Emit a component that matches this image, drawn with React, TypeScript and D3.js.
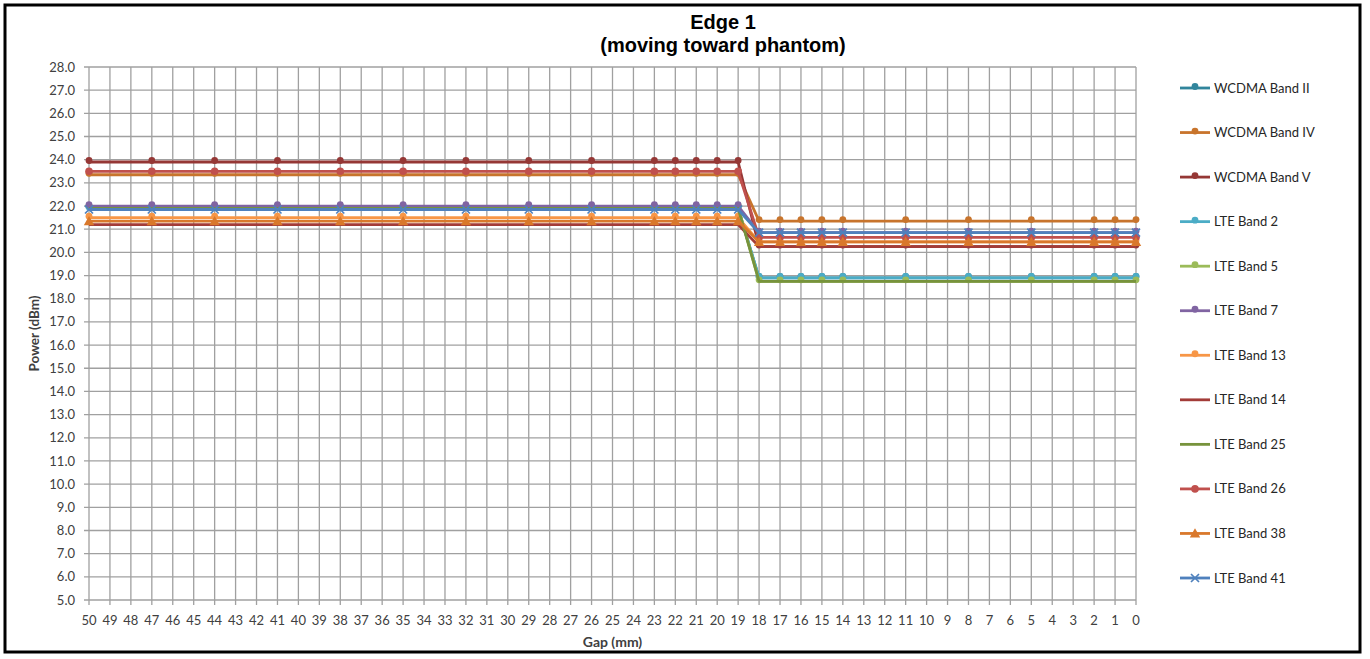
import React from "react";
import * as d3 from "d3";

const categories: number[] = d3.range(50, -1, -1);
const gaps: number[] = [50, 47, 44, 41, 38, 35, 32, 29, 26, 23, 22, 21, 20, 19, 18, 17, 16, 15, 14, 11, 8, 5, 2, 1, 0];

const seriesNames: string[] = [
  "WCDMA Band II", "WCDMA Band IV", "WCDMA Band V", "LTE Band 2", "LTE Band 5", "LTE Band 7",
  "LTE Band 13", "LTE Band 14", "LTE Band 25", "LTE Band 26", "LTE Band 38", "LTE Band 41",
];
const seriesColors: string[] = [
  "#31859C", "#C8742C", "#953735", "#4BACC6", "#9BBB59", "#8064A2",
  "#F79646", "#A33C38", "#77933C", "#C0504D", "#D9782B", "#4F81BD",
];
const seriesMarkers: string[] = [
  "dome", "dome", "dome", "dome", "dome", "dome", "dome", "none", "none", "circle", "triangle", "x",
];

const wcdmaBand2: number[] = [21.9, 21.9, 21.9, 21.9, 21.9, 21.9, 21.9, 21.9, 21.9, 21.9, 21.9, 21.9, 21.9, 21.9, 18.9, 18.9, 18.9, 18.9, 18.9, 18.9, 18.9, 18.9, 18.9, 18.9, 18.9];
const wcdmaBand4: number[] = [23.35, 23.35, 23.35, 23.35, 23.35, 23.35, 23.35, 23.35, 23.35, 23.35, 23.35, 23.35, 23.35, 23.35, 21.35, 21.35, 21.35, 21.35, 21.35, 21.35, 21.35, 21.35, 21.35, 21.35, 21.35];
const wcdmaBand5: number[] = [23.9, 23.9, 23.9, 23.9, 23.9, 23.9, 23.9, 23.9, 23.9, 23.9, 23.9, 23.9, 23.9, 23.9, 20.25, 20.25, 20.25, 20.25, 20.25, 20.25, 20.25, 20.25, 20.25, 20.25, 20.25];
const lteBand2: number[] = [21.9, 21.9, 21.9, 21.9, 21.9, 21.9, 21.9, 21.9, 21.9, 21.9, 21.9, 21.9, 21.9, 21.9, 18.9, 18.9, 18.9, 18.9, 18.9, 18.9, 18.9, 18.9, 18.9, 18.9, 18.9];
const lteBand5: number[] = [21.95, 21.95, 21.95, 21.95, 21.95, 21.95, 21.95, 21.95, 21.95, 21.95, 21.95, 21.95, 21.95, 21.95, 18.75, 18.75, 18.75, 18.75, 18.75, 18.75, 18.75, 18.75, 18.75, 18.75, 18.75];
const lteBand7: number[] = [22.0, 22.0, 22.0, 22.0, 22.0, 22.0, 22.0, 22.0, 22.0, 22.0, 22.0, 22.0, 22.0, 22.0, 20.85, 20.85, 20.85, 20.85, 20.85, 20.85, 20.85, 20.85, 20.85, 20.85, 20.85];
const lteBand13: number[] = [21.5, 21.5, 21.5, 21.5, 21.5, 21.5, 21.5, 21.5, 21.5, 21.5, 21.5, 21.5, 21.5, 21.5, 20.45, 20.45, 20.45, 20.45, 20.45, 20.45, 20.45, 20.45, 20.45, 20.45, 20.45];
const lteBand14: number[] = [21.2, 21.2, 21.2, 21.2, 21.2, 21.2, 21.2, 21.2, 21.2, 21.2, 21.2, 21.2, 21.2, 21.2, 20.25, 20.25, 20.25, 20.25, 20.25, 20.25, 20.25, 20.25, 20.25, 20.25, 20.25];
const lteBand25: number[] = [21.9, 21.9, 21.9, 21.9, 21.9, 21.9, 21.9, 21.9, 21.9, 21.9, 21.9, 21.9, 21.9, 21.9, 18.75, 18.75, 18.75, 18.75, 18.75, 18.75, 18.75, 18.75, 18.75, 18.75, 18.75];
const lteBand26: number[] = [23.5, 23.5, 23.5, 23.5, 23.5, 23.5, 23.5, 23.5, 23.5, 23.5, 23.5, 23.5, 23.5, 23.5, 20.65, 20.65, 20.65, 20.65, 20.65, 20.65, 20.65, 20.65, 20.65, 20.65, 20.65];
const lteBand38: number[] = [21.35, 21.35, 21.35, 21.35, 21.35, 21.35, 21.35, 21.35, 21.35, 21.35, 21.35, 21.35, 21.35, 21.35, 20.45, 20.45, 20.45, 20.45, 20.45, 20.45, 20.45, 20.45, 20.45, 20.45, 20.45];
const lteBand41: number[] = [21.85, 21.85, 21.85, 21.85, 21.85, 21.85, 21.85, 21.85, 21.85, 21.85, 21.85, 21.85, 21.85, 21.85, 20.85, 20.85, 20.85, 20.85, 20.85, 20.85, 20.85, 20.85, 20.85, 20.85, 20.85];

const seriesValues: number[][] = [
  wcdmaBand2, wcdmaBand4, wcdmaBand5, lteBand2, lteBand5, lteBand7,
  lteBand13, lteBand14, lteBand25, lteBand26, lteBand38, lteBand41,
];

const yTicks: number[] = d3.range(5, 29, 1);

const W = 1370;
const H = 659;
const M = { left: 89, right: 1136, top: 67, bottom: 600 };
const FONT = "Lato, 'Open Sans', 'Liberation Sans', sans-serif";

function Marker({ type, x, y, color }: { type: string; x: number; y: number; color: string }) {
  if (type === "dome") return <circle cx={x} cy={y - 1.5} r={3.4} fill={color} />;
  if (type === "circle") return <circle cx={x} cy={y} r={3.8} fill={color} />;
  if (type === "triangle") {
    const s = 5.2;
    return <path d={`M${x},${y - s} L${x + s},${y + s * 0.8} L${x - s},${y + s * 0.8} Z`} fill={color} />;
  }
  if (type === "x") {
    const s = 4;
    return (
      <path d={`M${x - s},${y - s} L${x + s},${y + s} M${x - s},${y + s} L${x + s},${y - s}`} stroke={color} strokeWidth={1.7} fill="none" />
    );
  }
  return null;
}

export default function App() {
  const x = d3.scalePoint<number>().domain(categories).range([M.left, M.right]);
  const y = d3.scaleLinear().domain([5, 28]).range([M.bottom, M.top]);
  const line = d3
    .line<[number, number]>()
    .x((d) => x(d[0]) as number)
    .y((d) => y(d[1]));
  const legendY = d3.scaleLinear().domain([0, 11]).range([88, 578]);
  const gridColor = "#A0A0A0";

  return (
    <svg width={W} height={H} style={{ position: "absolute", left: 0, top: 0, background: "#fff" }}>
      <rect x={0} y={0} width={W} height={H} fill="#fff" />
      <rect x={5} y={5} width={1355} height={647} fill="none" stroke="#000" strokeWidth={3} />

      <text x={723} y={29} textAnchor="middle" fontFamily="'Liberation Sans', Arial, sans-serif" fontWeight="bold" fontSize={20} fill="#000">
        Edge 1
      </text>
      <text x={723} y={52} textAnchor="middle" fontFamily="'Liberation Sans', Arial, sans-serif" fontWeight="bold" fontSize={20} fill="#000">
        (moving toward phantom)
      </text>

      {/* gridlines */}
      {categories.map((c) => (
        <line key={"v" + c} x1={x(c)} x2={x(c)} y1={M.top} y2={M.bottom + 5} stroke={gridColor} strokeWidth={1.3} />
      ))}
      {yTicks.map((t) => (
        <line key={"h" + t} x1={M.left - 5} x2={M.right} y1={y(t)} y2={y(t)} stroke={gridColor} strokeWidth={1.3} />
      ))}

      {/* y labels */}
      {yTicks.map((t) => (
        <text key={"yl" + t} x={75} y={y(t)} dy="0.35em" textAnchor="end" fontFamily={FONT} fontSize={13} fill="#404040">
          {d3.format(".1f")(t)}
        </text>
      ))}
      {/* x labels */}
      {categories.map((c) => (
        <text key={"xl" + c} x={x(c)} y={620} dy="0.35em" textAnchor="middle" fontFamily={FONT} fontSize={13} fill="#404040">
          {c}
        </text>
      ))}

      <text x={(M.left + M.right) / 2} y={642} dy="0.35em" textAnchor="middle" fontFamily={FONT} fontWeight="bold" fontSize={14} fill="#404040">
        Gap (mm)
      </text>
      <text
        transform={`translate(34, ${(M.top + M.bottom) / 2}) rotate(-90)`}
        textAnchor="middle"
        dy="0.35em"
        fontFamily={FONT}
        fontWeight="bold"
        fontSize={13.5}
        fill="#404040"
      >
        Power (dBm)
      </text>

      {/* series */}
      {seriesValues.map((vals, i) => {
        const pts: [number, number][] = gaps.map((g, j) => [g, vals[j]]);
        return (
          <g key={"s" + i}>
            <path d={line(pts) || ""} fill="none" stroke={seriesColors[i]} strokeWidth={2.8} strokeLinejoin="round" />
            {pts.map((p, j) => (
              <Marker key={j} type={seriesMarkers[i]} x={x(p[0]) as number} y={y(p[1])} color={seriesColors[i]} />
            ))}
          </g>
        );
      })}

      {/* legend */}
      {seriesNames.map((n, i) => {
        const ly = legendY(i);
        return (
          <g key={"lg" + i}>
            <line x1={1180} x2={1210} y1={ly} y2={ly} stroke={seriesColors[i]} strokeWidth={2.8} />
            <Marker type={seriesMarkers[i]} x={1195} y={ly} color={seriesColors[i]} />
            <text x={1214} y={ly} dy="0.35em" fontFamily={FONT} fontSize={13} fill="#262626">
              {n}
            </text>
          </g>
        );
      })}
    </svg>
  );
}
